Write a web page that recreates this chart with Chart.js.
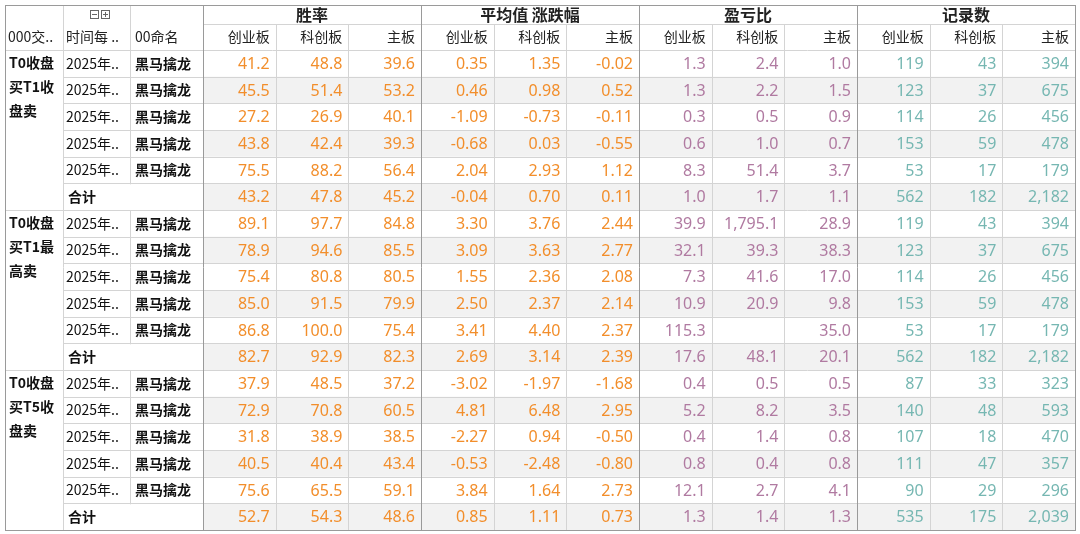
<!DOCTYPE html>
<html>
<head>
<meta charset="utf-8">
<script src="https://cdn.jsdelivr.net/npm/chart.js@4.4.1/dist/chart.umd.min.js"></script>
<style>
  body { margin: 0; background: #fff; }
</style>
</head>
<body>
<canvas id="tbl" width="1080" height="534"></canvas>
<script>
const strategies = ['T0收盘\n买T1收\n盘卖', 'T0收盘\n买T1最\n高卖', 'T0收盘\n买T5收\n盘卖'];
const measures = ['胜率', '平均值 涨跌幅', '盈亏比', '记录数'];
const boards = ['创业板', '科创板', '主板'];

const winCY = [41.2, 45.5, 27.2, 43.8, 75.5, 43.2, 89.1, 78.9, 75.4, 85.0, 86.8, 82.7, 37.9, 72.9, 31.8, 40.5, 75.6, 52.7];
const winKC = [48.8, 51.4, 26.9, 42.4, 88.2, 47.8, 97.7, 94.6, 80.8, 91.5, 100.0, 92.9, 48.5, 70.8, 38.9, 40.4, 65.5, 54.3];
const winZB = [39.6, 53.2, 40.1, 39.3, 56.4, 45.2, 84.8, 85.5, 80.5, 79.9, 75.4, 82.3, 37.2, 60.5, 38.5, 43.4, 59.1, 48.6];
const avgCY = [0.35, 0.46, -1.09, -0.68, 2.04, -0.04, 3.30, 3.09, 1.55, 2.50, 3.41, 2.69, -3.02, 4.81, -2.27, -0.53, 3.84, 0.85];
const avgKC = [1.35, 0.98, -0.73, 0.03, 2.93, 0.70, 3.76, 3.63, 2.36, 2.37, 4.40, 3.14, -1.97, 6.48, 0.94, -2.48, 1.64, 1.11];
const avgZB = [-0.02, 0.52, -0.11, -0.55, 1.12, 0.11, 2.44, 2.77, 2.08, 2.14, 2.37, 2.39, -1.68, 2.95, -0.50, -0.80, 2.73, 0.73];
const plCY = [1.3, 1.3, 0.3, 0.6, 8.3, 1.0, 39.9, 32.1, 7.3, 10.9, 115.3, 17.6, 0.4, 5.2, 0.4, 0.8, 12.1, 1.3];
const plKC = [2.4, 2.2, 0.5, 1.0, 51.4, 1.7, 1795.1, 39.3, 41.6, 20.9, null, 48.1, 0.5, 8.2, 1.4, 0.4, 2.7, 1.4];
const plZB = [1.0, 1.5, 0.9, 0.7, 3.7, 1.1, 28.9, 38.3, 17.0, 9.8, 35.0, 20.1, 0.5, 3.5, 0.8, 0.8, 4.1, 1.3];
const cntCY = [119, 123, 114, 153, 53, 562, 119, 123, 114, 153, 53, 562, 87, 140, 107, 111, 90, 535];
const cntKC = [43, 37, 26, 59, 17, 182, 43, 37, 26, 59, 17, 182, 33, 48, 18, 47, 29, 175];
const cntZB = [394, 675, 456, 478, 179, 2182, 394, 675, 456, 478, 179, 2182, 323, 593, 470, 357, 296, 2039];

const columns = [
  [winCY, winKC, winZB], [avgCY, avgKC, avgZB], [plCY, plKC, plZB], [cntCY, cntKC, cntZB]
];
const decimals = [1, 2, 1, 0];
const colors = ['#f28e2b', '#f28e2b', '#b07aa1', '#76b7b2'];

// column/row edges in scale units
const colEdges = [0, 58, 125, 198];
for (let k = 1; k <= 12; k++) colEdges.push(198 + k * (872 / 12));
const rowEdges = [0, 19, 45];
for (let k = 1; k <= 18; k++) rowEdges.push(45 + k * (480 / 18));

const fmt = (v, d) => v == null ? '' :
  v.toLocaleString('en-US', { minimumFractionDigits: d, maximumFractionDigits: d });

const tablePlugin = {
  id: 'table',
  afterDraw(chart) {
    const ctx = chart.ctx;
    const xs = chart.scales.x, ys = chart.scales.y;
    const X = i => xs.getPixelForValue(colEdges[i]);
    const Y = i => ys.getPixelForValue(rowEdges[i]);
    const cjk = '"Noto Sans CJK SC", sans-serif';
    ctx.save();

    // shading of alternate rows
    for (let r = 0; r < 18; r++) {
      if (r % 2 === 1) {
        ctx.fillStyle = '#f2f2f2';
        ctx.fillRect(X(3), Y(r + 2), X(15) - X(3), Y(r + 3) - Y(r + 2));
      }
    }

    // grid lines
    ctx.lineWidth = 1;
    ctx.strokeStyle = '#d4d4d4';
    for (let r = 1; r <= 20; r++) {
      const y = Math.round(Y(r)) + 0.5;
      const startCol = (r <= 2) ? (r === 1 ? 3 : 0) : ((r - 2) % 6 === 0 ? 0 : 1);
      ctx.beginPath(); ctx.moveTo(X(startCol), y); ctx.lineTo(X(15), y); ctx.stroke();
    }
    for (let c = 1; c < 15; c++) {
      const x = Math.round(X(c)) + 0.5;
      const top = ((c - 3) % 3 === 0 || c < 3) ? Y(0) : Y(1);
      ctx.strokeStyle = ((c - 3) % 3 === 0) ? '#9a9a9a' : '#d4d4d4';
      ctx.beginPath(); ctx.moveTo(x, top); ctx.lineTo(x, Y(20)); ctx.stroke();
    }
    // 合计 rows: no line between col 2 and 3
    ctx.strokeStyle = '#9a9a9a';
    ctx.strokeRect(Math.round(X(0)) + 0.5, Math.round(Y(0)) + 0.5, X(15) - X(0), Y(20) - Y(0));
    for (let g = 0; g < 3; g++) {
      const y = Y(2 + g * 6 + 5);
      ctx.fillStyle = g % 2 === 0 || true ? '#ffffff' : '#ffffff';
      ctx.fillRect(X(2) - 1, y + 1, 3, Y(2 + g * 6 + 6) - y - 1);
    }

    // header texts
    ctx.fillStyle = '#222';
    ctx.textBaseline = 'middle';
    ctx.font = 'bold 16px ' + cjk;
    ctx.textAlign = 'center';
    measures.forEach((m, i) => {
      ctx.fillText(m, (X(3 + i * 3) + X(6 + i * 3)) / 2, (Y(0) + Y(1)) / 2);
    });
    ctx.font = '14px ' + cjk;
    ctx.textAlign = 'right';
    for (let c = 0; c < 12; c++) {
      ctx.fillText(boards[c % 3], X(4 + c) - 6, (Y(1) + Y(2)) / 2);
    }
    ctx.textAlign = 'left';
    ctx.fillText('000交..', X(0) + 3, (Y(1) + Y(2)) / 2);
    ctx.fillText('时间每 ..', X(1) + 3, (Y(1) + Y(2)) / 2);
    ctx.fillText('00命名', X(2) + 5, (Y(1) + Y(2)) / 2);
    // expand/collapse icons
    ctx.strokeStyle = '#666';
    [0, 1].forEach(k => {
      const bx = X(1) + 27 + k * 11, by = Y(0) + 5;
      ctx.strokeRect(bx + 0.5, by + 0.5, 8, 8);
      ctx.beginPath(); ctx.moveTo(bx + 2, by + 4.5); ctx.lineTo(bx + 7, by + 4.5);
      if (k === 1) { ctx.moveTo(bx + 4.5, by + 2); ctx.lineTo(bx + 4.5, by + 7); }
      ctx.stroke();
    });

    // row labels
    for (let g = 0; g < 3; g++) {
      ctx.font = 'bold 14px ' + cjk;
      ctx.fillStyle = '#111';
      ctx.textAlign = 'left';
      strategies[g].split('\n').forEach((ln, i) => {
        ctx.fillText(ln, X(0) + 4, Y(2 + g * 6) + 13 + i * 24);
      });
      for (let r = 0; r < 6; r++) {
        const row = g * 6 + r;
        const yc = (Y(2 + row) + Y(3 + row)) / 2;
        if (r < 5) {
          ctx.font = '14px ' + cjk;
          ctx.fillText('2025年..', X(1) + 3, yc);
          ctx.font = 'bold 14px ' + cjk;
          ctx.fillText('黑马擒龙', X(2) + 5, yc);
        } else {
          ctx.font = 'bold 14px ' + cjk;
          ctx.fillText('合计', X(1) + 5, yc);
        }
      }
    }

    // values
    ctx.font = '16px "Noto Sans", sans-serif';
    ctx.textAlign = 'right';
    columns.forEach((grp, m) => {
      grp.forEach((arr, b) => {
        const c = 3 + m * 3 + b;
        ctx.fillStyle = colors[m];
        arr.forEach((v, row) => {
          ctx.fillText(fmt(v, decimals[m]), X(c + 1) - 6, (Y(2 + row) + Y(3 + row)) / 2 + 1);
        });
      });
    });
    ctx.restore();
  }
};

new Chart(document.getElementById('tbl').getContext('2d'), {
  type: 'scatter',
  data: { datasets: [{ data: [] }] },
  options: {
    responsive: false,
    animation: false,
    layout: { padding: { left: 5, right: 5, top: 5, bottom: 4 } },
    plugins: { legend: { display: false }, tooltip: { enabled: false } },
    scales: {
      x: { type: 'linear', min: 0, max: 1070, display: false },
      y: { type: 'linear', min: 0, max: 525, reverse: true, display: false }
    }
  },
  plugins: [tablePlugin]
});
</script>
</body>
</html>
